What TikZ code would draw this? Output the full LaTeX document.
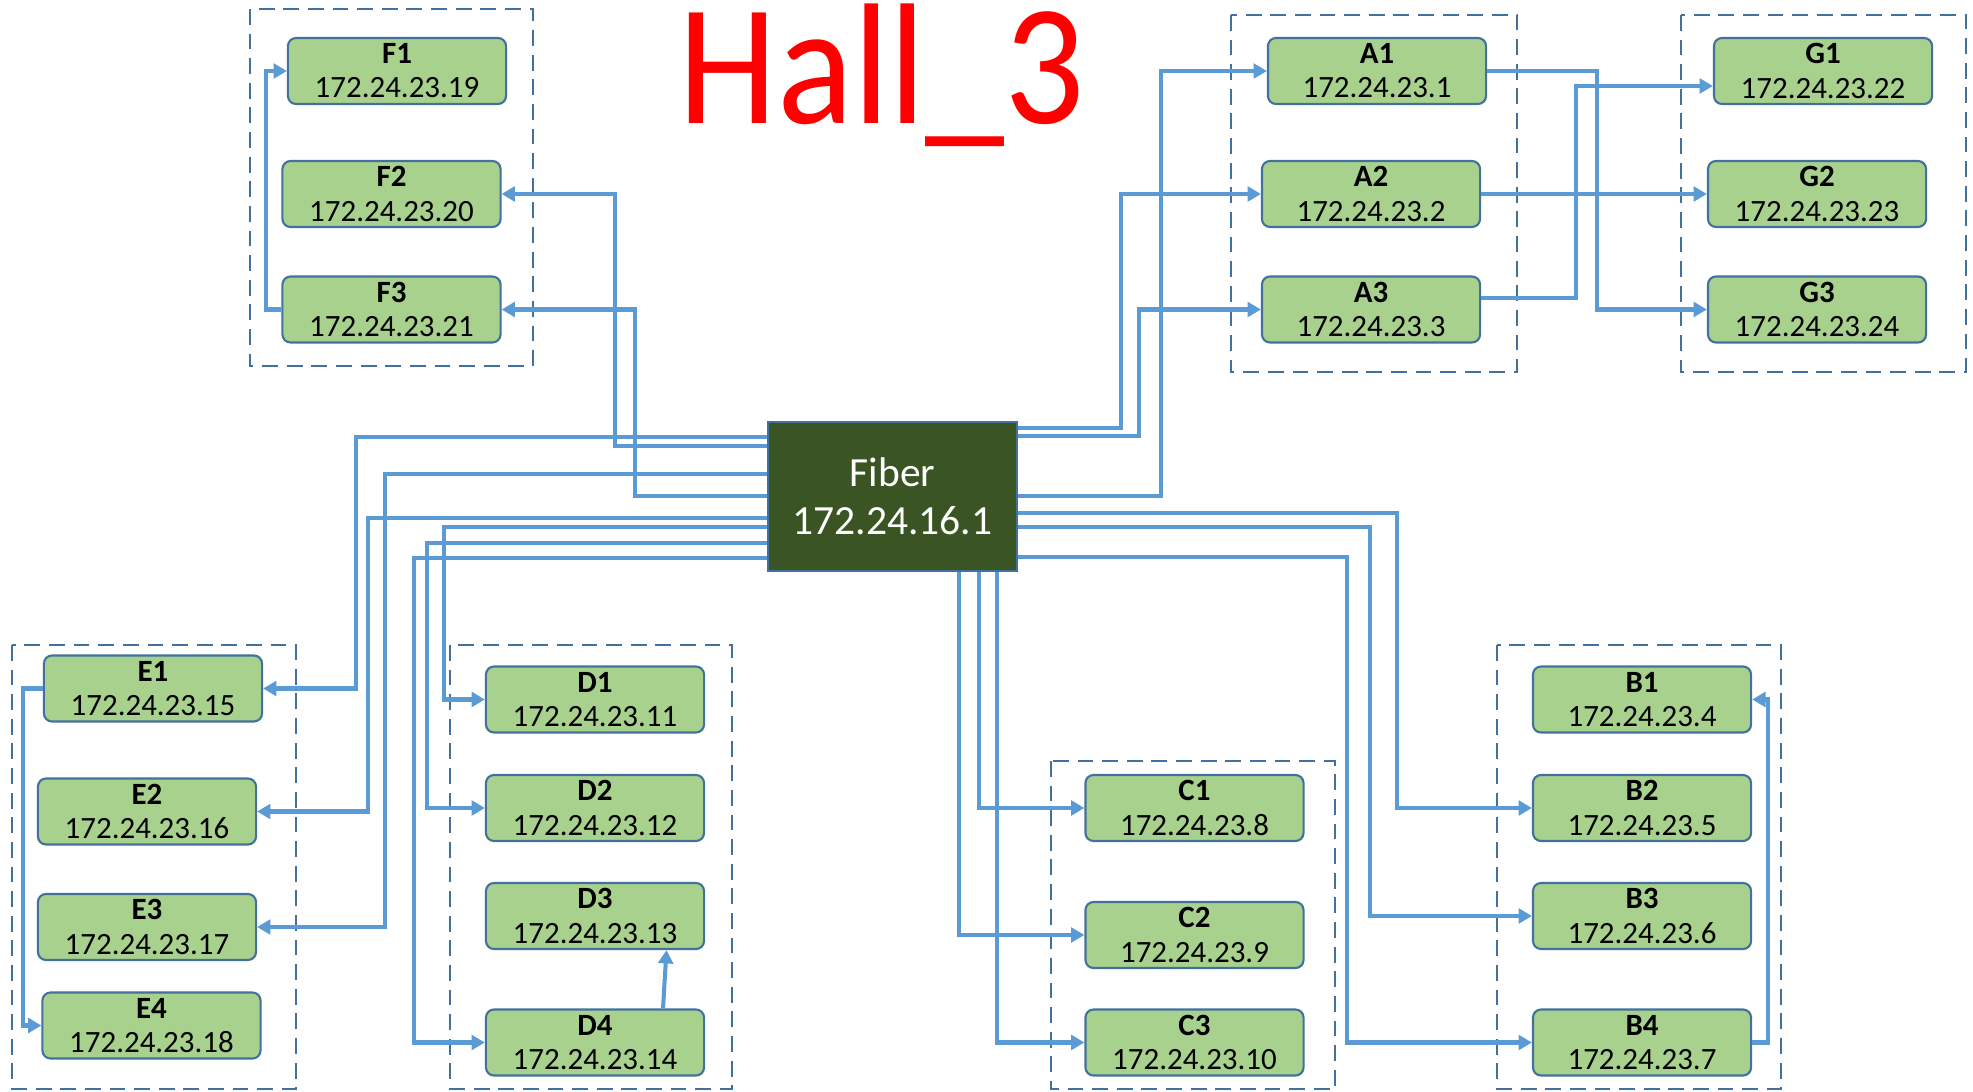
\documentclass[tikz,border=0pt]{standalone}
\usepackage{graphicx}
\usepackage{fontspec}
\setmainfont{Carlito}
\usetikzlibrary{arrows.meta}

\definecolor{wireblue}{HTML}{5B9BD5}
\definecolor{hostgreen}{HTML}{A9D18E}
\definecolor{edgeblue}{HTML}{41719C}
\definecolor{fibergreen}{HTML}{3A5423}

\tikzset{
  host/.style={draw=edgeblue, line width=0.6pt, fill=hostgreen,
    rounded corners=2.3pt, minimum width=2.18cm, minimum height=0.66cm,
    inner sep=0pt, align=center, font=\fontsize{8.8}{9.7}\selectfont},
  fiberbox/.style={draw=edgeblue, line width=0.7pt, fill=fibergreen,
    text=white, minimum width=2.49cm, minimum height=1.49cm,
    inner sep=0pt, align=center, font=\fontsize{11.8}{13.7}\selectfont},
  hallgroup/.style={draw=edgeblue, line width=0.6pt,
    dash pattern=on 4.5pt off 2.5pt},
  wire/.style={draw=wireblue, line width=1.15pt,
    -{Triangle[length=3.8pt,width=4.2pt]}},
}

\begin{document}
\begin{tikzpicture}[x=0.01cm, y=-0.01cm]
  \useasboundingbox (0,0) rectangle (1973,1091);

  \node[text=red, anchor=base, font=\fontsize{49}{49}\selectfont] (title)
    at (882,124) {\scalebox{0.92}[1]{Hall\_3}};

  % dashed groups
  \draw[hallgroup] (250,9)    rectangle (533,366);   % F
  \draw[hallgroup] (1231,15)  rectangle (1517,372);  % A
  \draw[hallgroup] (1681,15)  rectangle (1966,372);  % G
  \draw[hallgroup] (12,645)   rectangle (296,1089);  % E
  \draw[hallgroup] (450,645)  rectangle (732,1089);  % D
  \draw[hallgroup] (1051,761) rectangle (1335,1089); % C
  \draw[hallgroup] (1497,645) rectangle (1781,1089); % B

  \node[fiberbox] (fiber) at (892.5,496.5) {Fiber\\172.24.16.1};

  \foreach \n/\x/\y/\ip in {F1/397/71/19, F2/391.5/194/20, F3/391.5/309.5/21,
      A1/1377/71/1, A2/1371/194/2, A3/1371/309.5/3,
      G1/1823/71/22, G2/1817/194/23, G3/1817/309.5/24,
      E1/153/688.5/15, E2/147/811.5/16, E3/147/927/17, E4/151.5/1025.5/18,
      D1/595/699.5/11, D2/595/808/12, D3/595/916/13, D4/595/1042.5/14,
      C1/1194.5/808/8, C2/1194.5/935/9, C3/1194.5/1042.5/10,
      B1/1642/699.5/4, B2/1642/808/5, B3/1642/916/6, B4/1642/1042.5/7}
    {\node[host] (\n) at (\x,\y) {\textbf{\n}\\172.24.23.\ip};}

  % west side of the fiber box
  \draw[wire] (fiber.west |- 0,437) -- (356,437) |- (E1.east);
  \draw[wire] (fiber.west |- 0,446) -- (615,446) |- (F2.east);
  \draw[wire] (fiber.west |- 0,474) -- (385,474) |- (E3.east);
  \draw[wire] (fiber.west |- 0,496) -- (635,496) |- (F3.east);
  \draw[wire] (fiber.west |- 0,518) -- (368,518) |- (E2.east);
  \draw[wire] (fiber.west |- 0,527) -- (444,527) |- (D1.west);
  \draw[wire] (fiber.west |- 0,543) -- (427,543) |- (D2.west);
  \draw[wire] (fiber.west |- 0,558) -- (414,558) |- (D4.west);
  % east side
  \draw[wire] (fiber.east |- 0,428) -- (1121,428) |- (A2.west);
  \draw[wire] (fiber.east |- 0,436) -- (1139,436) |- (A3.west);
  \draw[wire] (fiber.east |- 0,496) -- (1161,496) |- (A1.west);
  \draw[wire] (fiber.east |- 0,513) -- (1397,513) |- (B2.west);
  \draw[wire] (fiber.east |- 0,527) -- (1370,527) |- (B3.west);
  \draw[wire] (fiber.east |- 0,557) -- (1347,557) |- (B4.west);
  % south side
  \draw[wire] (fiber.south -| 959,0) |- (C2.west);
  \draw[wire] (fiber.south -| 979,0) |- (C1.west);
  \draw[wire] (fiber.south -| 997,0) |- (C3.west);

  % inside the groups
  \draw[wire] (F3.west) -- (266,309.5) |- (F1.west);
  \draw[wire] (E1.west) -- (23,688.5) |- (E4.west);
  \draw[wire] (D4.north -| 663,0) -- (D3.south -| 666.5,0);
  \draw[wire] (B4.east) -- (1768,1042.5) |- (B1.east);
  \draw[wire] (A1.east) -- (1597,71) |- (G3.west);
  \draw[wire] (A2.east) -- (G2.west);
  \draw[wire] (A3.east |- 0,298) -- (1576,298) |- (G1.west |- 0,86);
\end{tikzpicture}
\end{document}
